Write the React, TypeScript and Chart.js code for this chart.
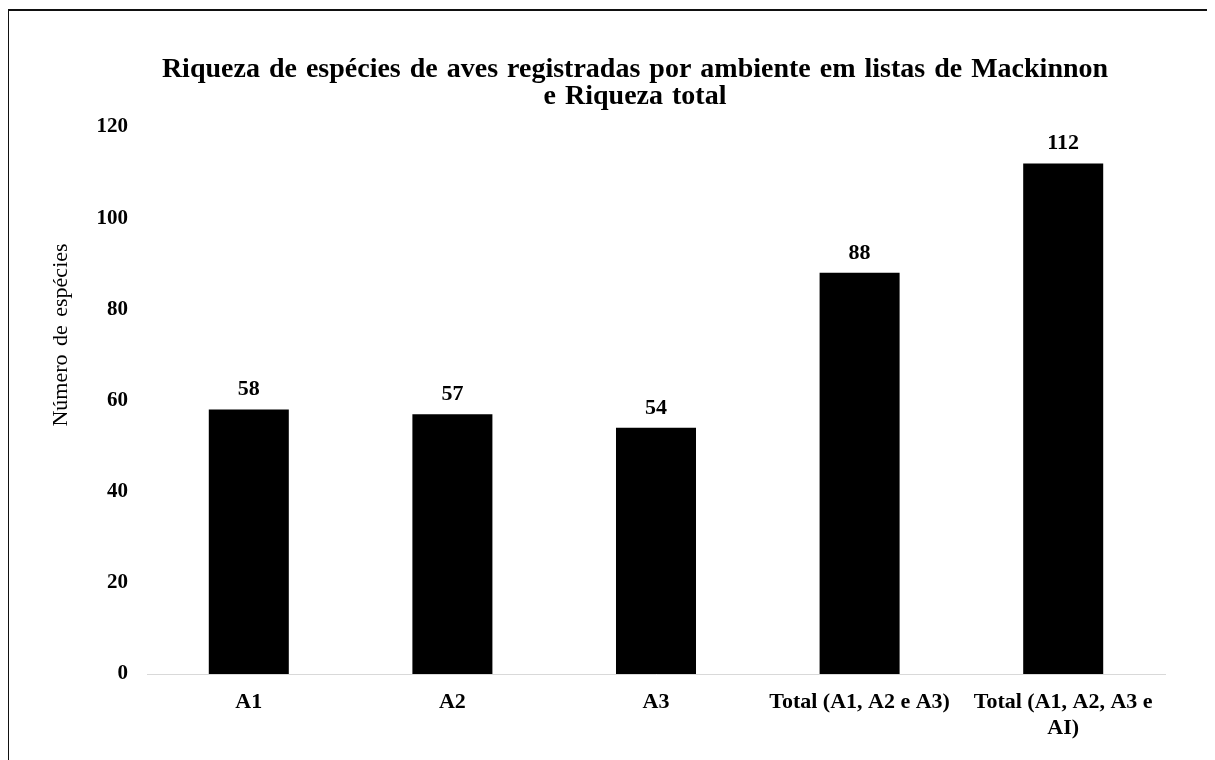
import React, { useEffect, useRef } from "react";
import { Chart, registerables } from "chart.js";

Chart.register(...registerables);

const categories: (string | string[])[] = [
  "A1",
  "A2",
  "A3",
  "Total (A1, A2 e A3)",
  ["Total (A1, A2, A3 e", "AI)"],
];
const speciesCounts: number[] = [58, 57, 54, 88, 112];
const yTicks = { min: 0, max: 120, step: 20 };
const titleLines = [
  "Riqueza de espécies de aves registradas por ambiente em listas de Mackinnon",
  "e Riqueza total",
];
const yAxisTitle = "Número de espécies";

const FONT = "'Liberation Serif', 'Times New Roman', serif";

const titleAndAxisTitle = {
  id: "titleAndAxisTitle",
  afterDraw(chart: any) {
    const ctx = chart.ctx;
    ctx.save();
    ctx.fillStyle = "#000";
    ctx.textAlign = "center";
    ctx.textBaseline = "middle";
    ctx.font = `bold 28px ${FONT}`;
    (ctx as any).wordSpacing = "2px";
    ctx.fillText(titleLines[0], 626, 59);
    ctx.fillText(titleLines[1], 626, 86);
    (ctx as any).wordSpacing = "3px";
    ctx.font = `22px ${FONT}`;
    ctx.translate(52, 324);
    ctx.rotate(-Math.PI / 2);
    ctx.fillText(yAxisTitle, 0, 0);
    ctx.restore();
  },
};

const valueLabels = {
  id: "valueLabels",
  afterDatasetsDraw(chart: any) {
    const ctx = chart.ctx;
    const meta = chart.getDatasetMeta(0);
    ctx.save();
    ctx.font = `bold 22px ${FONT}`;
    ctx.fillStyle = "#000";
    ctx.textAlign = "center";
    ctx.textBaseline = "middle";
    meta.data.forEach((bar: any, i: number) => {
      const v = chart.data.datasets[0].data[i];
      ctx.fillText(String(v), bar.x, bar.y - 20);
    });
    ctx.restore();
  },
};

export default function App() {
  const canvasRef = useRef<HTMLCanvasElement | null>(null);

  useEffect(() => {
    document.body.style.overflow = "hidden";
    const canvas = canvasRef.current;
    if (!canvas) return;
    const chart = new Chart(canvas, {
      type: "bar",
      data: {
        labels: categories,
        datasets: [
          {
            data: speciesCounts,
            backgroundColor: "#000000",
            borderWidth: 0,
            barPercentage: 0.393,
            categoryPercentage: 1,
          },
        ],
      },
      plugins: [valueLabels, titleAndAxisTitle],
      options: {
        responsive: false,
        animation: false,
        maintainAspectRatio: false,
        layout: { padding: { left: 0, right: 50, top: 116, bottom: 0 } },
        plugins: {
          legend: { display: false },
          tooltip: { enabled: false },
          title: { display: false },
        },
        scales: {
          x: {
            grid: { display: false, drawTicks: false },
            border: { display: true, color: "#d9d9d9", width: 1 },
            ticks: {
              color: "#000",
              font: { family: FONT, size: 22, weight: "bold", lineHeight: 1.2 },
              padding: 15,
              maxRotation: 0,
              autoSkip: false,
            },
            afterFit(scale: any) {
              scale.height = 86;
            },
          },
          y: {
            min: yTicks.min,
            max: yTicks.max,
            grid: { display: false, drawTicks: false },
            border: { display: false },
            ticks: {
              stepSize: yTicks.step,
              color: "#000",
              font: { family: FONT, size: 21, weight: "bold" },
              padding: 19,
            },
            afterFit(scale: any) {
              scale.width = 138;
            },
          },
        },
      },
    });
    return () => chart.destroy();
  }, []);

  return (
    <div
      style={{
        width: 1215,
        height: 760,
        border: "2px solid #111",
        boxSizing: "content-box",
        marginLeft: -1,
        marginTop: 1,
      }}
    >
      <canvas ref={canvasRef} width={1206} height={749} style={{ display: "block" }} />
    </div>
  );
}
